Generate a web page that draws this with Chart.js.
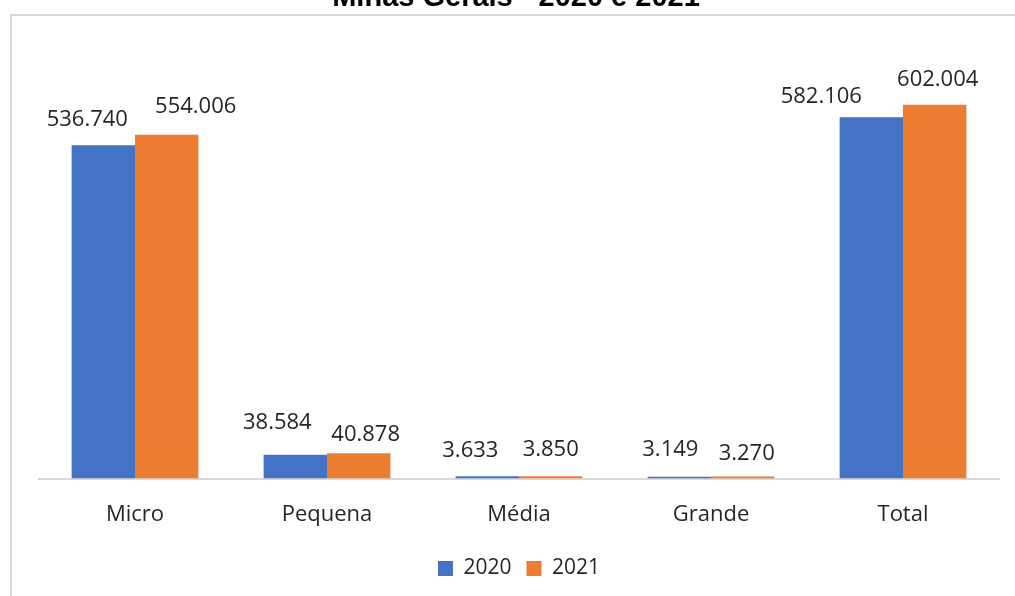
<!DOCTYPE html>
<html>
<head>
<meta charset="utf-8">
<script src="https://cdn.jsdelivr.net/npm/chart.js@4.4.1/dist/chart.umd.min.js"></script>
<style>
  html, body { margin: 0; padding: 0; background: #fff; }
  #wrap { width: 1015px; height: 596px; position: relative; }
</style>
</head>
<body>
<div id="wrap"><canvas id="porte"></canvas></div>
<script>
var categorias = ['Micro', 'Pequena', 'Média', 'Grande', 'Total'];
var anos = ['2020', '2021'];
var valores2020 = [536740, 38584, 3633, 3149, 582106];
var valores2021 = [554006, 40878, 3850, 3270, 602004];
var titulo = 'Minas Gerais - 2020 e 2021';

// deslocamento manual dos rótulos (px) para não se sobreporem
var ajusteX = [[-16, -18, -17, -9, -50], [29, 7, 0, 4, 3]];
var ajusteY = [[0, -6, 0, -1, 6], [-2, 8, 0, 3, 1]];

function milhar(v) {
  return String(v).replace(/\B(?=(\d{3})+(?!\d))/g, '.');
}

Chart.defaults.font.family = '"Open Sans", "Noto Sans", sans-serif';
Chart.defaults.color = '#262626';

var moldura = {
  id: 'moldura',
  beforeDraw: function(chart) {
    var c = chart.ctx;
    c.save();
    c.fillStyle = '#fff';
    c.fillRect(0, 0, chart.width, chart.height);
    c.strokeStyle = '#d9d9d9';
    c.lineWidth = 2;
    c.beginPath();
    c.moveTo(11, chart.height);
    c.lineTo(11, 15);
    c.lineTo(chart.width, 15);
    c.stroke();
    // título cortado no alto da página
    c.fillStyle = '#000';
    c.font = 'bold 29px "Liberation Sans", Arial, sans-serif';
    c.textAlign = 'center';
    c.textBaseline = 'alphabetic';
    c.fillText(titulo, 516, 6);
    c.restore();
  }
};

var rotulos = {
  id: 'rotulos',
  afterDatasetsDraw: function(chart) {
    var c = chart.ctx;
    c.save();
    c.font = '22px "Open Sans", "Noto Sans", sans-serif';
    c.fillStyle = '#262626';
    c.textAlign = 'center';
    c.textBaseline = 'middle';
    chart.data.datasets.forEach(function(ds, i) {
      chart.getDatasetMeta(i).data.forEach(function(bar, j) {
        c.fillText(milhar(ds.data[j]), bar.x + ajusteX[i][j], bar.y - 26 + ajusteY[i][j]);
      });
    });
    c.restore();
  }
};

new Chart(document.getElementById('porte'), {
  type: 'bar',
  data: {
    labels: categorias,
    datasets: [
      { label: anos[0], data: valores2020, backgroundColor: '#4472C4' },
      { label: anos[1], data: valores2021, backgroundColor: '#ED7D31' }
    ]
  },
  options: {
    responsive: true,
    maintainAspectRatio: false,
    animation: false,
    layout: { padding: { left: 39, right: 16, top: 44, bottom: 7 } },
    datasets: { bar: { categoryPercentage: 0.66, barPercentage: 1 } },
    scales: {
      y: { display: false, min: 0, max: 700000 },
      x: {
        grid: { display: false },
        border: { display: true, color: '#d9d9d9', width: 2 },
        ticks: { font: { size: 22 }, color: '#262626', padding: 15 }
      }
    },
    plugins: {
      legend: {
        position: 'bottom',
        labels: { boxWidth: 15, boxHeight: 15, padding: 15, font: { size: 21 }, color: '#262626' }
      },
      tooltip: { enabled: false }
    }
  },
  plugins: [moldura, rotulos]
});
</script>
</body>
</html>
